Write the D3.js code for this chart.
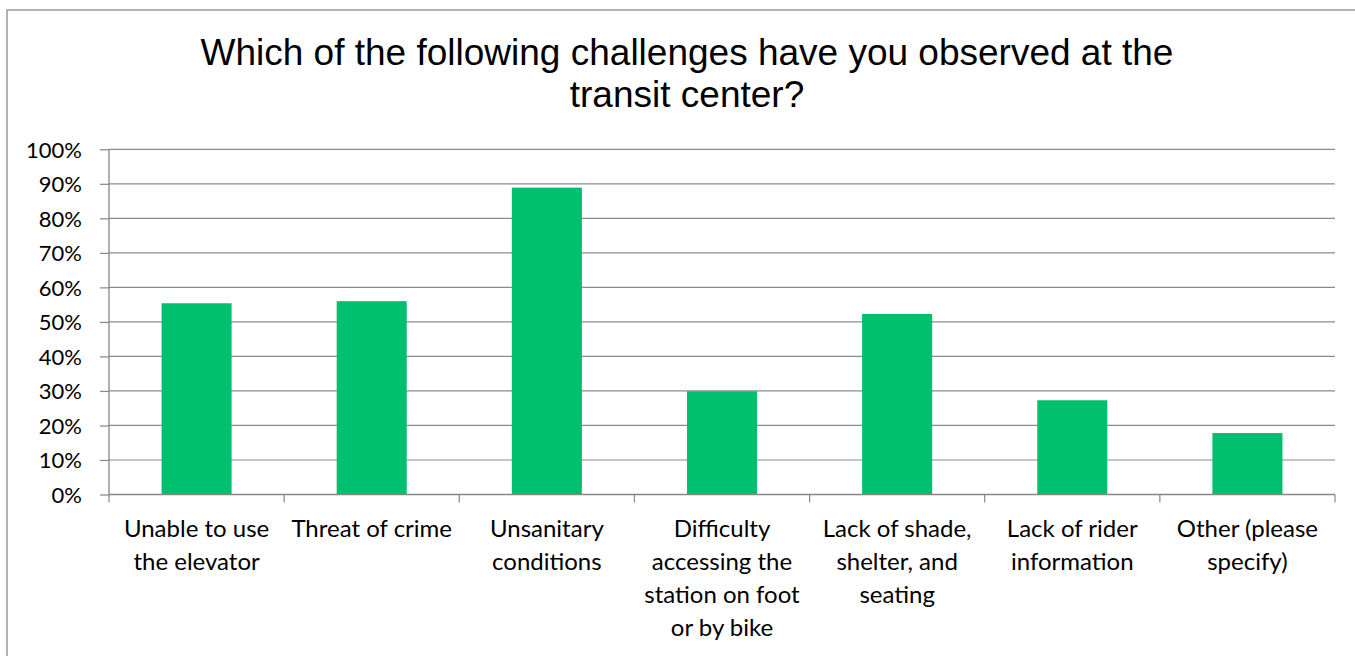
<!DOCTYPE html>
<html><head><meta charset="utf-8">
<script src="https://cdn.jsdelivr.net/npm/d3@7"></script>
<style>body{margin:0;background:#fff}svg{display:block}</style>
</head><body><svg id="c" width="1355" height="656"></svg>
<script>
const titleLines = ["Which of the following challenges have you observed at the", "transit center?"];
const categories = ["Unable to use the elevator", "Threat of crime", "Unsanitary conditions", "Difficulty accessing the station on foot or by bike", "Lack of shade, shelter, and seating", "Lack of rider information", "Other (please specify)"];
const values = [0.554, 0.560, 0.889, 0.299, 0.523, 0.273, 0.178];
const yTicks = [0, 0.1, 0.2, 0.3, 0.4, 0.5, 0.6, 0.7, 0.8, 0.9, 1.0];

const svg = d3.select("#c");
const m = {left: 109, right: 1335, top: 149.3, bottom: 494.5};
const labelFont = "Lato, 'Open Sans', sans-serif";

svg.append("rect").attr("x", 7).attr("y", 10).attr("width", 1360).attr("height", 660)
  .attr("fill", "#fff").attr("stroke", "#a0a0a0").attr("stroke-width", 1.6);

const title = svg.append("text").attr("text-anchor", "middle")
  .attr("font-family", "'Liberation Sans', Arial, sans-serif").attr("font-size", 37).attr("fill", "#000");
titleLines.forEach((t, i) => title.append("tspan").attr("x", 687).attr("y", 65 + i * 42).text(t));

const x = d3.scaleBand().domain(categories).range([m.left, m.right]).paddingInner(0.6).paddingOuter(0.3);
const y = d3.scaleLinear().domain([0, 1]).range([m.bottom, m.top]);

// gridlines
svg.append("g").selectAll("line").data(yTicks.filter(d => d > 0)).join("line")
  .attr("x1", m.left).attr("x2", m.right).attr("y1", d => y(d)).attr("y2", d => y(d))
  .attr("stroke", "#8c8c8c").attr("stroke-width", 1.2);

// bars
svg.append("g").selectAll("rect").data(values).join("rect")
  .attr("x", (d, i) => x(categories[i])).attr("width", x.bandwidth())
  .attr("y", d => y(d)).attr("height", d => y(0) - y(d)).attr("fill", "#00BF6F");

// y axis
const yAxis = d3.axisLeft(y).tickValues(yTicks).tickFormat(d3.format(".0%")).tickSize(9).tickPadding(18);
const gy = svg.append("g").attr("transform", `translate(${m.left},0)`).call(yAxis);
gy.select(".domain").attr("stroke", "#868686").attr("stroke-width", 1.3).attr("d", `M0,${m.top}V${m.bottom}`);
gy.selectAll(".tick line").attr("stroke", "#868686").attr("stroke-width", 1.2);
gy.selectAll(".tick text").attr("font-family", labelFont).attr("font-size", 22).attr("fill", "#000").attr("dy", "0.35em");

// x axis: boundary ticks
const bounds = d3.range(categories.length + 1).map(i => m.left + i * (m.right - m.left) / categories.length);
svg.append("line").attr("x1", m.left).attr("x2", m.right).attr("y1", m.bottom).attr("y2", m.bottom)
  .attr("stroke", "#868686").attr("stroke-width", 1.5);
svg.append("g").selectAll("line").data(bounds).join("line")
  .attr("x1", d => d).attr("x2", d => d).attr("y1", m.bottom).attr("y2", m.bottom + 8)
  .attr("stroke", "#868686").attr("stroke-width", 1.2);

// category labels with wrapping
const ctx = document.createElement("canvas").getContext("2d");
const fs = 24;
ctx.font = `${fs}px Lato`;
function wrap(text, maxW) {
  const words = text.split(" "); const lines = []; let cur = "";
  words.forEach(w => {
    const t = cur ? cur + " " + w : w;
    if (ctx.measureText(t).width > maxW && cur) { lines.push(cur); cur = w; } else cur = t;
  });
  if (cur) lines.push(cur);
  return lines;
}
const lab = svg.append("g");
categories.forEach((c, i) => {
  const cx = x(c) + x.bandwidth() / 2;
  const t = lab.append("text").attr("text-anchor", "middle").attr("font-family", labelFont)
    .attr("font-size", fs).attr("fill", "#000");
  wrap(c, 172).forEach((l, j) => t.append("tspan").attr("x", cx).attr("y", 537 + j * 33).text(l));
});
</script></body></html>
